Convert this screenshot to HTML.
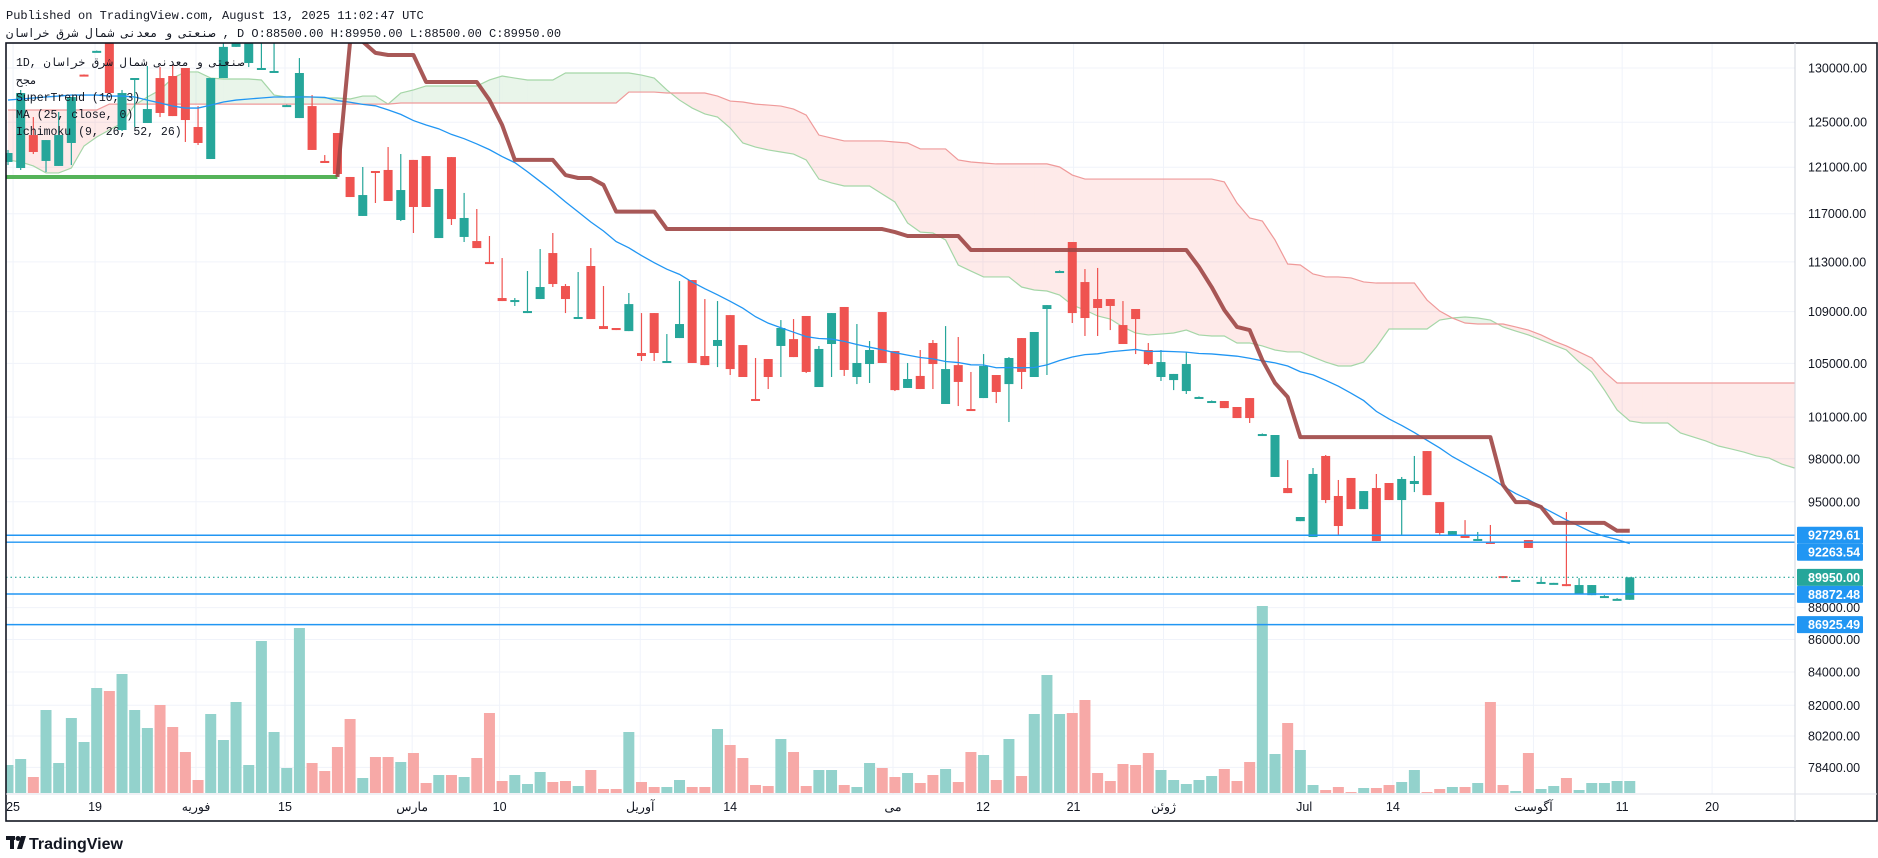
<!DOCTYPE html>
<html>
<head>
<meta charset="utf-8">
<style>
  html,body{margin:0;padding:0;background:#ffffff;}
  body{width:1878px;height:858px;overflow:hidden;position:relative;font-family:"Liberation Sans","Noto Sans CJK SC",sans-serif;}
  #chart{position:absolute;left:0;top:0;}
  .mono{font-family:"Liberation Mono","DejaVu Sans Mono",monospace;}
</style>
</head>
<body>
<svg id="chart" width="1878" height="858" viewBox="0 0 1878 858" xmlns="http://www.w3.org/2000/svg">
  <defs>
    <clipPath id="plotClip"><rect x="6" y="43" width="1789" height="751"/></clipPath>
  </defs>
  <rect x="0" y="0" width="1878" height="858" fill="#ffffff"/>
  <g id="grid"></g>
  <g id="plot" clip-path="url(#plotClip)">
    <g id="volume"></g>
    <g id="cloud"></g>
    <g id="candles"></g>
    <g id="ma"></g>
    <g id="st"></g>
    <g id="hlines"></g>
  </g>
  <g id="axes"></g>
  <rect x="6" y="43" width="1871" height="778" fill="none" stroke="#131722" stroke-width="1.6"/>
  <line x1="1795" y1="43" x2="1795" y2="821" stroke="#d1d4dc" stroke-width="1"/>
  <line x1="6" y1="794" x2="1877" y2="794" stroke="#e0e3eb" stroke-width="1"/>

  <text class="mono" x="6" y="19" font-size="12" fill="#131722">Published on TradingView.com, August 13, 2025 11:02:47 UTC</text>
  <text class="mono" x="6" y="37" font-size="12" fill="#131722">صنعتی و معدنی شمال شرق خراسان , D O:88500.00 H:89950.00 L:88500.00 C:89950.00</text>

  <g class="mono" font-size="11.5" fill="#131722">
    <text x="16" y="66">1D, صنعتی و معدنی شمال شرق خراسان</text>
    <text x="16" y="84">مجح</text>
    <text x="16" y="101">SuperTrend (10, 3)</text>
    <text x="16" y="118">MA (25, close, 0)</text>
    <text x="16" y="135">Ichimoku (9, 26, 52, 26)</text>
  </g>

  <g>
    <rect x="6" y="836" width="9" height="4" fill="#131722"/>
    <rect x="10" y="836" width="4" height="13" fill="#131722"/>
    <circle cx="18" cy="838.5" r="2.5" fill="#131722"/>
    <polygon points="21,836 26,836 22,849 17,849" fill="#131722"/>
    <text x="29" y="849" font-size="16" font-weight="bold" fill="#131722">TradingView</text>
  </g>
</svg>

<script>
// ---- data ----
const opens  = [121460,120930,123850,121550,121110,123140,129380,131600,132700,124300,128970,124930,129060,129250,130000,124570,121720,129060,132000,130470,129910,129630,126540,125380,126470,121550,124030,120150,116810,120670,120760,116470,121640,121980,114960,121890,115050,114710,112980,110080,109840,108890,110000,113720,111040,108500,112660,107870,107720,107480,105790,108890,105100,106940,111520,105560,106330,108730,106400,102330,105330,106330,106860,108660,103220,106480,109370,103970,104950,108970,105940,103150,104050,106560,101960,104870,101590,102400,104120,103440,106940,103970,109210,112240,114630,111360,110000,110000,107950,109210,106020,103970,103740,102920,102470,102170,102180,101740,102400,99760,96720,95950,93680,92610,98200,95400,96650,94500,95950,96300,95120,96230,98550,94980,92750,92680,92470,92280,90030,89770,92410,89640,89580,89510,88870,88800,88680,88550,88500];
const highs  = [122520,127950,125470,123400,125930,127300,129400,131650,133500,127950,129063,130190,130090,130280,130000,126470,129060,132370,132800,133500,133200,133200,126600,130940,127480,122070,124030,120150,121020,120670,122780,122160,121640,121980,119110,121890,118770,117400,115130,113310,110080,112250,114050,115380,111200,112170,114130,111040,107720,110480,108890,108890,107250,111440,111520,110000,109840,108730,106400,105410,105330,108340,108420,108660,106330,108890,109370,108030,106710,108970,105940,105030,106020,106790,107870,107020,104350,105710,104120,105480,106940,107410,109520,112300,114630,112410,112500,110000,109840,109210,106560,106020,104200,105860,102520,102220,102180,101740,102400,99810,99700,97910,93960,97350,98270,96510,96650,95740,96930,96300,96720,98200,98550,94980,93010,93750,92950,93420,90030,89780,92410,89900,89590,94300,89900,89450,88800,88610,89950];
const lows   = [121190,120760,122160,120580,121110,121190,129280,131600,127600,124210,124570,124930,125470,125560,123230,122960,121720,129060,132000,130090,129910,129630,126520,125380,122520,121370,120230,118420,116810,117910,118080,116380,115380,117570,114960,116050,114630,114130,112900,109840,109450,108890,110000,110960,108890,108500,108420,107640,107560,107480,105180,105180,105100,106940,105030,104870,104720,104120,103970,102250,103070,103970,105480,104270,103220,103970,104050,103440,103520,105030,102920,103150,103070,103070,101960,101810,101520,102400,102030,100640,103070,103970,104120,112200,108110,107100,107100,107560,106480,105710,104870,103670,102990,102700,102440,102140,101660,100930,100570,99730,96720,95600,93680,92610,94910,92680,94500,94500,92340,95120,92750,95670,95460,92750,92750,92610,92470,92210,89900,89770,91880,89640,89580,89380,88870,88800,88680,88550,88500];
const closes = [122250,127670,122340,123400,123850,127300,129340,131620,127670,127670,129063,126200,125840,125560,125200,123140,129060,132000,132370,132660,130000,129720,126560,129530,122520,121370,120410,118420,118590,120580,118080,119020,117570,117570,119110,116550,116640,114130,112900,109840,109920,109050,110960,111200,110000,108580,108420,107640,107560,109600,105560,105790,105180,108030,105030,104870,106790,104570,103970,102250,103970,107720,105480,104350,106100,108890,104500,105030,106020,105030,102990,103820,103070,104950,104570,103600,101520,104800,102850,105410,104350,107410,109520,112250,108890,108500,109290,109450,106480,108420,104950,105100,104200,104950,102480,102180,101660,100930,100930,99770,99700,95600,93960,96930,95120,93350,94500,95740,92340,95120,96580,96440,95460,92880,93010,92610,92480,92210,89900,89780,91880,89650,89590,89380,89450,89450,88740,88560,89950];
const volumes = [28,34,16,83,30,75,51,105,102,119,83,65,88,66,41,13,79,53,91,28,152,61,25,165,30,22,46,74,15,36,36,31,40,10,18,18,16,35,80,12,18,9,21,11,12,7,23,4,4,61,11,6,6,13,6,6,64,48,35,8,7,54,41,7,23,23,8,6,30,25,16,20,10,18,24,11,41,38,13,54,17,79,118,79,80,93,20,12,29,28,40,23,13,9,13,17,24,12,31,187,39,70,43,8,3,6,1,5,5,8,11,23,1,4,6,6,10,91,8,2,40,4,7,15,3,10,10,12,12];
const volumeDir = "uuduuuuudu"+"uudddduuuu"+"uuuuddddud"+"duddududdd"+"uuuddudddu"+"dduudduddd"+"dudduuduud"+"dudduddudu"+"duuudddddd"+"duuuuudddu"+"uduudddudd"+"uuddududdu"+"duuduuuuu";
const maHead = [127020,127120,127210,127300,127390,127480,127480,127480,127390,127390,127300,127020,126750,126470,126290,126290,126560,126840,127020,127120,127210,127300,127300,127300];
const supertrend = [120150,120150,120150,120150,120150,120150,120150,120150,120150,120150,120150,120150,120150,120150,120150,120150,120150,120150,120150,120150,120150,120150,120150,120150,120150,120150,120150,
 132500,132500,131430,131230,131230,131230,128690,128690,128690,128690,128690,127020,124750,121640,121640,121640,121640,120320,120060,120060,119460,117180,117180,117180,117180,
 115710,115710,115710,115710,115710,115710,115710,115710,115710,115710,115710,115710,115710,115710,115710,115710,115710,115710,
 115460,115130,115130,115130,115130,115130,
 113970,113970,113970,113970,113970,113970,113970,113970,113970,113970,113970,113970,113970,113970,113970,113970,113970,113970,
 112580,110960,109130,107800,107560,105250,103520,102480,
 99550,99550,99550,99550,99550,99550,99550,99550,99550,99550,99550,99550,99550,99550,99550,99550,
 96160,94980,94980,94640,93560,93560,93560,93560,93560,93030,93030];
const supertrendDir = "uuuuuuuuuuuuuuuuuuuuuuuuuuu"+"dddddddddddddddddddddddddddddddddddddddddddddddddddddddddddddddddddddddddddddddddddddddddddddddddddddd";
const spanA = [121640,121460,121110,120500,120500,120930,122870,123670,124300,124930,
 126560,127300,127950,129060,129630,129630,129060,128970,128970,128970,
 128880,127480,127300,127390,127300,127210,127210,127120,127390,127390,
 126650,127670,127950,128320,128320,128320,128320,128320,128880,129250,
 129060,128880,128880,128880,129530,129530,129530,129530,129530,129530,
 129340,129060,127950,127020,126290,125750,125470,124480,123140,122780,
 122520,122340,122160,121640,119970,119630,119370,119370,119370,118680,
 118000,116220,115460,115380,114800,112740,112250,111770,111770,111770,
 110960,110720,110640,110320,109520,109130,108660,108420,107800,107330,
 107180,107250,107330,107560,107180,107100,107100,106560,106560,106330,
 106020,105870,105870,105480,105100,104800,104800,105100,106250,107640,
 107640,107640,107640,108340,108500,108580,108500,108340,107800,107480,
 107180,106790,106400,106020,105100,104350,102990,101520,100720,100570,
 100570,100570,99850,99560,99270,98910,98700,98480,98200,98050,
 97630,97350];
const spanB = [126110,126110,126110,126110,126110,126110,126110,126110,
 126650,126650,126650,126650,126650,126650,126650,126650,126650,126650,126650,126650,126650,126650,126650,126650,126650,126650,126650,126650,126650,126650,126650,
 126750,126750,126750,126750,126750,126750,126750,126750,126750,126750,126750,126750,126750,126750,126750,126750,126750,126750,
 127760,127760,127760,127670,127670,127670,127670,127390,126930,126840,126650,
 126560,126470,126200,125650,123850,123580,123320,123320,123320,123320,
 123230,123140,122610,122610,122610,121640,121460,121370,121290,121290,
 121290,121290,121290,121020,120320,119970,119970,119970,119970,119970,
 119970,119970,119970,119970,119970,119970,119720,117910,116640,116380,
 114800,112820,112740,112010,111770,111770,111690,111370,111280,111280,
 111280,111280,109920,109050,108500,108110,108030,108030,108030,107800,
 107560,107180,106710,106330,105870,105410,104350,103520,103520,103520,
 103520,103520,103520,103520,103520,103520,103520,103520,103520,103520,
 103520,103520];
const priceTicks = [130000,125000,121000,117000,113000,109000,105000,101000,98000,95000,88000,86000,84000,82000,80200,78400];
const timeTickIdx = [0.4,6.87,14.84,21.86,31.9,38.8,49.9,57.0,69.85,76.95,84.1,91.2,102.3,109.3,120.4,127.4,134.5];
const timeTickLabels = ["25","19","فوریه","15","مارس","10","آوریل","14","می","12","21","ژوئن","Jul","14","آگوست","11","20"];
const linePrices = [92729.61,92263.54,88872.48,86925.49];
const lastPrice = 89950.00;
const tagPrices = [92729.61,92263.54,89950.00,88872.48,86925.49];
const tagLabels = ["92729.61","92263.54","89950.00","88872.48","86925.49"];
const tagKinds = ["line","line","last","line","line"];

// ---- scales ----
const NS = "http://www.w3.org/2000/svg";
const BAR0 = 8, BARW = 12.67;
const PLOT_L = 6, PLOT_R = 1795, VOL_BASE = 793, VOL_MAX_H = 187;
function X(i){ return BAR0 + i*BARW; }
function Y(p){ return 68 + 1383*Math.log(130000/p); }
const volMax = Math.max.apply(null, volumes);
function VH(v){ return v/volMax*VOL_MAX_H; }
function mk(tag, attrs, parent){
  const e = document.createElementNS(NS, tag);
  for (const k in attrs) e.setAttribute(k, attrs[k]);
  parent.appendChild(e);
  return e;
}
const UP = "#26a69a", DOWN = "#ef5350";

// ---- grid ----
const grid = document.getElementById('grid');
priceTicks.forEach(function(p){
  const l = mk('line', {x1:PLOT_L, x2:PLOT_R, y1:Y(p), y2:Y(p), stroke:'#f0f3fa', 'stroke-width':1}, grid);
  
  
});
timeTickIdx.forEach(function(t){
  const l = mk('line', {x1:X(t), x2:X(t), y1:43, y2:794, stroke:'#f0f3fa', 'stroke-width':1}, grid);
  
  
});

// ---- volume ----
const volG = document.getElementById('volume');
volumes.forEach(function(v, i){
  const h = Math.max(1, VH(v));
  const r = mk('rect', {x:X(i)-5.5, y:VOL_BASE-h, width:11, height:h, fill: volumeDir[i]==='u' ? '#93d2cc' : '#f7a9a7'}, volG);
  
  
});

// ---- ichimoku cloud ----
const cloudG = document.getElementById('cloud');
const GREENF = 'rgba(76,175,80,0.12)', REDF = 'rgba(244,67,54,0.11)';
for (let i = 0; i < spanA.length-1; i++){
  const x0 = X(i), x1 = X(i+1);
  const a0 = Y(spanA[i]), a1 = Y(spanA[i+1]), b0 = Y(spanB[i]), b1 = Y(spanB[i+1]);
  const d0 = a0-b0, d1 = a1-b1;
  if ((d0 <= 0 && d1 <= 0) || (d0 >= 0 && d1 >= 0)){
    const col = (d0+d1) < 0 ? GREENF : REDF;
    const pg = mk('polygon', {points: x0+','+a0+' '+x1+','+a1+' '+x1+','+b1+' '+x0+','+b0, fill: col}, cloudG);
    
    
  } else {
    const t = d0/(d0-d1);
    const xm = x0 + t*(x1-x0), ym = a0 + t*(a1-a0);
    const p1 = mk('polygon', {points: x0+','+a0+' '+xm+','+ym+' '+x0+','+b0, fill: d0<0?GREENF:REDF}, cloudG);
    
    
    const p2 = mk('polygon', {points: xm+','+ym+' '+x1+','+a1+' '+x1+','+b1, fill: d1<0?GREENF:REDF}, cloudG);
    
    
  }
}
const aPts = spanA.map(function(v,i){ return X(i)+','+Y(v); }).join(' ');
const bPts = spanB.map(function(v,i){ return X(i)+','+Y(v); }).join(' ');
const lineA = mk('polyline', {points:aPts, fill:'none', stroke:'#a5d6a7', 'stroke-width':1.2}, cloudG);


const lineB = mk('polyline', {points:bPts, fill:'none', stroke:'#ef9a9a', 'stroke-width':1.2}, cloudG);



// ---- candles ----
const cG = document.getElementById('candles');
for (let i = 0; i < closes.length; i++){
  const up = closes[i] >= opens[i];
  const col = up ? UP : DOWN;
  const xc = X(i);
  const w = mk('line', {x1:xc, x2:xc, y1:Y(highs[i]), y2:Y(lows[i]), stroke:col, 'stroke-width':1.2}, cG);
  
  
  const yt = Y(Math.max(opens[i], closes[i])), yb = Y(Math.min(opens[i], closes[i]));
  const h = Math.max(2, yb-yt);
  const b = mk('rect', {x:xc-4.5, y:yt, width:9, height:h, fill:col}, cG);
  
  
}

// ---- MA 25 ----
const maVals = closes.map(function(c, i){
  if (i < 24) return maHead[i];
  let s = 0; for (let k = i-24; k <= i; k++) s += closes[k];
  return s/25;
});
const maLine = mk('polyline', {points: maVals.map(function(v,i){ return X(i)+','+Y(v); }).join(' '), fill:'none', stroke:'#2196f3', 'stroke-width':1.3}, document.getElementById('ma'));



// ---- Supertrend ----
const stG = document.getElementById('st');
let runStart = 0;
for (let i = 1; i <= supertrend.length; i++){
  if (i === supertrend.length || supertrendDir[i] !== supertrendDir[runStart]){
    const from = runStart === 0 ? 0 : runStart-1;
    const pts = [];
    for (let k = from; k < i; k++) pts.push(X(k)+','+Y(supertrend[k]));
    const up = supertrendDir[runStart] === 'u';
    const pl = mk('polyline', {points: pts.join(' '), fill:'none', stroke: up ? '#4caf50' : '#9f4645', 'stroke-opacity': up ? 0.95 : 0.9, 'stroke-width':4, 'stroke-linejoin':'round'}, stG);
    
    
    runStart = i;
  }
}
// extend the up-trend line to the left frame edge
const stExt = mk('line', {x1:PLOT_L, x2:X(0), y1:Y(supertrend[0]), y2:Y(supertrend[0]), stroke:'#4caf50', 'stroke-width':4}, stG);



// ---- horizontal price lines ----
const hG = document.getElementById('hlines');
linePrices.forEach(function(p){
  const l = mk('line', {x1:PLOT_L, x2:PLOT_R, y1:Y(p), y2:Y(p), stroke:'#2196f3', 'stroke-width':1.4}, hG);
  
  
});
const lp = mk('line', {x1:PLOT_L, x2:PLOT_R, y1:Y(lastPrice), y2:Y(lastPrice), stroke:'#26a69a', 'stroke-width':1.2, 'stroke-dasharray':'1.5,3'}, hG);



// ---- axes ----
const axG = document.getElementById('axes');
priceTicks.forEach(function(p){
  const t = mk('text', {x:1808, y:Y(p)+4.5, 'font-size':12.5, fill:'#131722'}, axG);
  t.textContent = p.toFixed(2);
  
  
});
timeTickIdx.forEach(function(ti, k){
  const t = mk('text', {x:X(ti), y:811, 'font-size':12.5, fill:'#131722', 'text-anchor':'middle'}, axG);
  t.textContent = timeTickLabels[k];
  
  
});
// price tags (stacked to avoid overlap)
let prevBottom = -1e9;
tagPrices.forEach(function(p, k){
  let top = Y(p) - 8.5;
  if (top < prevBottom) top = prevBottom;
  prevBottom = top + 17;
  const r = mk('rect', {x:1797, y:top, width:66, height:17, fill: tagKinds[k]==='last' ? '#26a69a' : '#2196f3', rx:1}, axG);
  
  
  const t = mk('text', {x:1808, y:top+13, 'font-size':12.5, 'font-weight':'bold', fill:'#ffffff'}, axG);
  t.textContent = tagLabels[k];
  
  
});
</script>
</body>
</html>
